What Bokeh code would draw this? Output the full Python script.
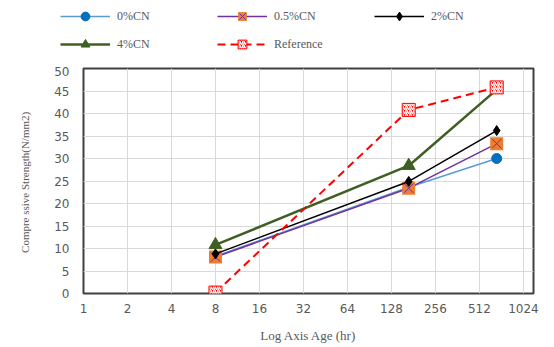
from bokeh.plotting import figure
from bokeh.models import Legend, LegendItem, FixedTicker, Range1d
from bokeh.layouts import column
from bokeh.embed import file_html
from bokeh.resources import INLINE

# ---- data ----
ages = [8, 168, 672]
cn0 = [8.3, 23.6, 30.0]
cn05 = [8.1, 23.4, 33.3]
cn2 = [8.8, 24.9, 36.2]
cn4 = [10.8, 28.4, 45.3]
ref = [0.2, 40.8, 45.8]
series_names = ["0%CN", "0.5%CN", "2%CN", "4%CN", "Reference"]
x_ticks = [1, 2, 4, 8, 16, 32, 64, 128, 256, 512, 1024]
x_tick_labels = ["1", "2", "4", "8", "16", "32", "64", "128", "256", "512", "1024"]
y_ticks = [0, 5, 10, 15, 20, 25, 30, 35, 40, 45, 50]

GREY = "#595959"

# ---- styles ----
S0_LINE = dict(line_color="#5B9BD5", line_width=1.5)
S0_MARK = dict(marker="circle", size=10, fill_color="#0070C0", line_color="#0070C0")
S05_LINE = dict(line_color="#7030A0", line_width=1.5)
S05_SQ = dict(marker="square", size=13, fill_color="#ED7D31", line_color=None)
S05_X = dict(marker="x", size=13, line_color="#7030A0", line_width=1)
S2_LINE = dict(line_color="black", line_width=1.5)
S2_MARK = dict(marker="diamond", size=10, fill_color="black", line_color="black")
S4_LINE = dict(line_color="#3F5F22", line_width=2.5)
S4_MARK = dict(marker="triangle", size=13, fill_color="#3F5F22", line_color="#3F5F22")
SR_LINE = dict(line_color="#FF0000", line_width=2, line_dash="8 5")
SR_MARK = dict(marker="square", size=13, fill_color="#FF0000", line_color="#FF0000",
               hatch_pattern="right_diagonal_line", hatch_color="white",
               hatch_scale=4, hatch_weight=1.5)


def add_series(fig, xs, ys_list):
    y0, y05, y2, y4, yr = ys_list
    r = []
    r.append([fig.line(xs, y0, **S0_LINE), fig.scatter(xs, y0, **S0_MARK)])
    r.append([fig.line(xs, y05, **S05_LINE), fig.scatter(xs, y05, **S05_SQ),
              fig.scatter(xs, y05, **S05_X)])
    r.append([fig.line(xs, y2, **S2_LINE), fig.scatter(xs, y2, **S2_MARK)])
    r.append([fig.line(xs, y4, **S4_LINE), fig.scatter(xs, y4, **S4_MARK)])
    r.append([fig.line(xs, yr, **SR_LINE), fig.scatter(xs, yr, **SR_MARK)])
    return r


# ---- main chart ----
p = figure(width=554, height=281, x_axis_type="log",
           x_range=Range1d(1, 1200), y_range=Range1d(0, 50),
           output_backend="svg", toolbar_location=None,
           min_border_left=83, min_border_right=21,
           min_border_top=2, min_border_bottom=54,
           background_fill_color="white", border_fill_color="white")
p.frame_align = False

p.outline_line_color = "#404040"
p.outline_line_width = 2

p.xaxis.ticker = FixedTicker(ticks=x_ticks)
p.xaxis.major_label_overrides = {t: l for t, l in zip(x_ticks, x_tick_labels)}
p.yaxis.ticker = FixedTicker(ticks=y_ticks)
for ax in (p.xaxis, p.yaxis):
    ax.axis_line_color = None
    ax.major_tick_line_color = None
    ax.minor_tick_line_color = None
    ax.major_tick_out = 0
    ax.major_tick_in = 0
    ax.minor_tick_out = 0
    ax.minor_tick_in = 0
    ax.major_label_text_font = "DejaVu Sans"
    ax.major_label_text_font_size = "12px"
    ax.major_label_text_color = GREY
    ax.axis_label_text_font = "Liberation Serif"
    ax.axis_label_text_font_style = "normal"
    ax.axis_label_text_color = GREY

p.xaxis.axis_label = "Log Axis Age (hr)"
p.xaxis.axis_label_text_font_size = "13px"
p.xaxis.major_label_standoff = 10
p.xaxis.axis_label_standoff = 12

p.yaxis.axis_label = "Compre ssive  Strength(N/mm2)"
p.yaxis.axis_label_text_font_size = "11px"
p.yaxis.major_label_standoff = 14
p.yaxis.axis_label_standoff = 20

p.xgrid.ticker = FixedTicker(ticks=x_ticks)
p.ygrid.ticker = FixedTicker(ticks=y_ticks)
p.xgrid.grid_line_color = "#D9D9D9"
p.ygrid.grid_line_color = "#D9D9D9"

add_series(p, ages, [cn0, cn05, cn2, cn4, ref])

# ---- legend strip: same series, ranges chosen so only the legend shows ----
lg = figure(width=554, height=66, output_backend="svg", toolbar_location=None,
            min_border=0, min_border_left=0, min_border_right=0,
            min_border_top=0, min_border_bottom=0,
            x_axis_type=None, y_axis_type=None,
            x_range=Range1d(1, 1200), y_range=Range1d(-100, -99),
            background_fill_color="white", border_fill_color="white")
lg.frame_align = False
lg.outline_line_color = None
lg.xgrid.visible = False
lg.ygrid.visible = False
leg_r = add_series(lg, ages, [cn0, cn05, cn2, cn4, ref])

items = [LegendItem(label=name, renderers=rs) for name, rs in zip(series_names, leg_r)]
legend = Legend(items=items, location=(60, 11), orientation="horizontal", ncols=3,
                border_line_color=None, background_fill_alpha=0,
                padding=0, margin=0, spacing=6,
                glyph_width=50, glyph_height=22, label_height=22,
                label_standoff=7, label_width=94,
                label_text_font="Liberation Serif", label_text_font_size="12px",
                label_text_color=GREY)
lg.add_layout(legend, "center")

layout = column(lg, p, spacing=0)
open("out.html", "w").write(file_html(layout, INLINE))
